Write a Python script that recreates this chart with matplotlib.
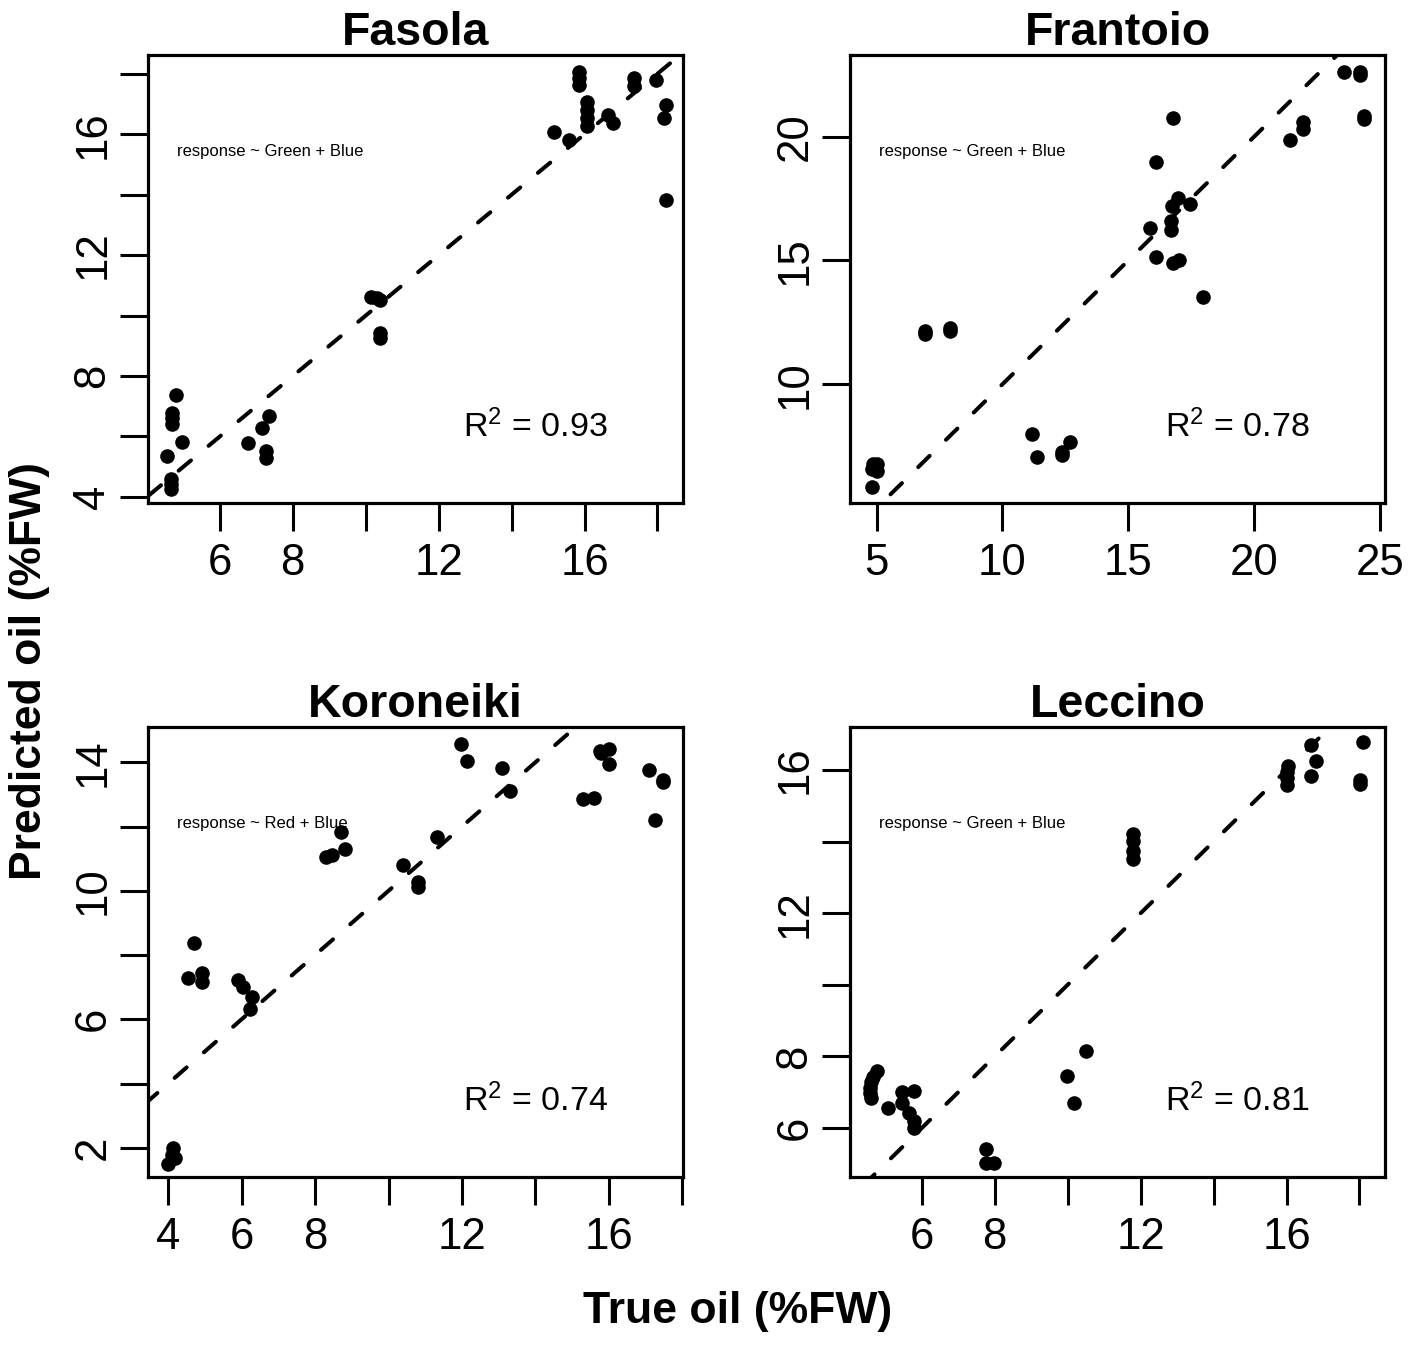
import matplotlib
matplotlib.use('Agg')
import matplotlib.pyplot as plt

plt.rcParams['font.family'] = ['Liberation Sans', 'DejaVu Sans']
plt.rcParams['mathtext.fontset'] = 'custom'
plt.rcParams['mathtext.rm'] = 'Liberation Sans'
plt.rcParams['mathtext.it'] = 'Liberation Sans:italic'
plt.rcParams['lines.scale_dashes'] = False

# ---------------- data ----------------
titles = ["Fasola", "Frantoio", "Koroneiki", "Leccino"]
formulas = ["response ~ Green + Blue", "response ~ Green + Blue",
            "response ~ Red + Blue", "response ~ Green + Blue"]
r2_values = ["0.93", "0.78", "0.74", "0.81"]

fasola_true = [4.79, 4.68, 4.68, 4.68, 4.97, 4.56, 4.66, 4.66, 4.66, 6.78, 7.16, 7.36, 7.26, 7.26,
               10.14, 10.38, 10.30, 10.38, 10.38, 15.16, 15.57, 15.86, 15.86, 15.86, 16.06, 16.06,
               16.06, 16.06, 16.64, 16.79, 17.37, 17.37, 17.95, 18.24, 18.19, 18.24]
fasola_pred = [7.36, 6.79, 6.62, 6.40, 5.83, 5.35, 4.58, 4.42, 4.25, 5.77, 6.29, 6.68, 5.52, 5.28,
               10.61, 10.53, 10.58, 9.43, 9.26, 16.07, 15.82, 18.07, 17.85, 17.63, 17.08, 16.81,
               16.53, 16.26, 16.64, 16.37, 17.85, 17.58, 17.80, 16.97, 16.53, 13.83]

frantoio_true = [4.86, 5.0, 4.80, 5.0, 4.83, 6.91, 6.91, 7.90, 7.90, 11.18, 11.39, 12.35, 12.35, 12.70,
                 15.88, 16.10, 16.10, 16.76, 16.69, 16.69, 16.73, 16.99, 17.44, 16.76, 17.01, 17.98,
                 21.42, 21.96, 21.96, 23.56, 24.22, 24.22, 24.36, 24.36]
frantoio_pred = [6.78, 6.51, 6.58, 6.78, 5.84, 12.15, 12.01, 12.28, 12.15, 7.99, 7.05, 7.25, 7.12, 7.65,
                 16.31, 18.99, 15.14, 20.77, 16.58, 16.24, 17.18, 17.54, 17.28, 14.90, 15.03, 13.52,
                 19.87, 20.60, 20.30, 22.62, 22.62, 22.50, 20.83, 20.73]

koroneiki_true = [4.0, 4.14, 4.19, 4.10, 4.53, 4.70, 4.93, 4.93, 5.89, 6.03, 6.29, 6.22, 8.30, 8.45,
                  8.70, 8.81, 10.39, 10.79, 10.79, 11.31, 11.98, 12.13, 13.09, 13.30, 15.30, 15.60,
                  15.76, 16.0, 16.0, 15.80, 17.09, 17.48, 17.48, 17.27]
koroneiki_pred = [1.51, 1.98, 1.67, 1.78, 7.28, 8.37, 7.44, 7.15, 7.23, 7.02, 6.70, 6.31, 11.04, 11.11,
                  11.84, 11.30, 10.80, 10.28, 10.12, 11.69, 14.58, 14.04, 13.81, 13.12, 12.87, 12.89,
                  14.35, 14.42, 13.96, 14.28, 13.77, 13.46, 13.38, 12.21]

leccino_true = [4.76, 4.66, 4.60, 4.57, 4.57, 4.60, 5.08, 5.46, 5.46, 5.78, 5.66, 5.78, 5.78, 7.77,
                7.77, 7.98, 9.99, 10.16, 10.50, 11.78, 11.78, 11.78, 11.78, 16.0, 16.0, 16.0, 16.05,
                16.68, 16.81, 16.68, 18.10, 18.02, 18.02]
leccino_pred = [7.60, 7.42, 7.27, 7.13, 6.99, 6.85, 6.57, 7.01, 6.71, 7.04, 6.42, 6.19, 6.0, 5.41,
                5.01, 5.03, 7.46, 6.71, 8.14, 14.21, 14.02, 13.74, 13.50, 15.95, 15.78, 15.58, 16.10,
                16.71, 16.24, 15.84, 16.77, 15.72, 15.62]

trues = [fasola_true, frantoio_true, koroneiki_true, leccino_true]
preds = [fasola_pred, frantoio_pred, koroneiki_pred, leccino_pred]

xlims = [(4.03, 18.7), (3.94, 25.2), (3.45, 18.02), (4.03, 18.7)]
ylims = [(3.8, 18.62), (5.2, 23.3), (1.09, 15.1), (4.63, 17.2)]
xticks = [[6, 8, 10, 12, 14, 16, 18], [5, 10, 15, 20, 25],
          [4, 6, 8, 10, 12, 14, 16, 18], [6, 8, 10, 12, 14, 16, 18]]
xticklabels = [["6", "8", "", "12", "", "16", ""], ["5", "10", "15", "20", "25"],
               ["4", "6", "8", "", "12", "", "16", ""], ["6", "8", "", "12", "", "16", ""]]
yticks = [[4, 6, 8, 10, 12, 14, 16, 18], [10, 15, 20],
          [2, 4, 6, 8, 10, 12, 14], [6, 8, 10, 12, 14, 16]]
yticklabels = [["4", "", "8", "", "12", "", "16", ""], ["10", "15", "20"],
               ["2", "", "6", "", "10", "", "14"], ["6", "8", "", "12", "", "16"]]

# ---------------- figure ----------------
W, H = 1417, 1348
fig = plt.figure(figsize=(W / 100, H / 100), dpi=100)

boxes = [(148, 55, 683, 503), (850, 55, 1385, 503),
         (148, 727, 683, 1177), (850, 727, 1385, 1177)]

for i in range(4):
    x0, y0, x1, y1 = boxes[i]
    ax = fig.add_axes([x0 / W, 1 - y1 / H, (x1 - x0) / W, (y1 - y0) / H])
    ax.plot(trues[i], preds[i], 'o', color='black', markersize=10.5, markeredgewidth=0)
    lo = min(xlims[i][0], ylims[i][0]) - 5
    hi = max(xlims[i][1], ylims[i][1]) + 5
    ax.plot([lo, hi], [lo, hi], color='black', lw=2.9, dashes=(11.5, 16.5),
            dash_capstyle='round')
    ax.set_xlim(*xlims[i])
    ax.set_ylim(*ylims[i])
    ax.set_xticks(xticks[i])
    ax.set_xticklabels(xticklabels[i])
    ax.set_yticks(yticks[i])
    ax.set_yticklabels(yticklabels[i], rotation=90, va='center')
    ax.tick_params(axis='both', direction='out', length=20, width=2.2,
                   labelsize=31.5, pad=9, color='black')
    ax.tick_params(axis='y', pad=5)
    for sp in ax.spines.values():
        sp.set_linewidth(2.3)
    ax.set_title(titles[i], fontsize=33.5, fontweight='bold', pad=6)
    ax.text(0.054, 0.785, formulas[i], transform=ax.transAxes, fontsize=12,
            ha='left', va='center')
    ax.text(0.724, 0.17, "R$^{2}$ = " + r2_values[i], transform=ax.transAxes,
            fontsize=24.5, ha='center', va='center')

fig.text(738 / W, 1 - 1312 / H, "True oil (%FW)", fontsize=32, fontweight='bold',
         ha='center', va='center')
fig.text(30 / W, 1 - 671 / H, "Predicted oil (%FW)", fontsize=32, fontweight='bold',
         ha='center', va='center', rotation=90)

fig.savefig('out.png', dpi=100)
